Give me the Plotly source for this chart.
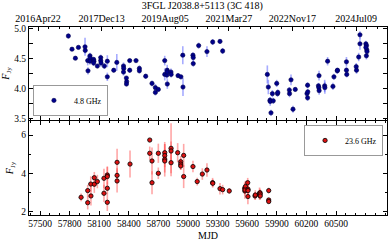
import plotly.graph_objects as go

# 4.8 GHz
mjd_48 = [57787, 57824, 57858, 57889, 57956, 57958, 57983, 57986, 58006, 58009, 58006,
          58043, 58046, 58043, 58081, 58115, 58115, 58118, 58152, 58182, 58182, 58247,
          58278, 58346, 58348, 58346, 58375, 58378, 58376, 58409, 58409, 58473, 58507,
          58507, 58571, 58635, 58669, 58669, 58699, 58764, 58764, 58786, 58790, 58789,
          58790, 58827, 58829, 58899, 58928, 58947, 58949, 59050, 59053, 59053, 59108,
          59192, 59250, 59324, 59351, 59804, 59814, 59831, 59833, 59841, 59855, 59864,
          59899, 59907, 59910, 60027, 60029, 60044, 60064, 60087, 60206, 60212, 60214,
          60212, 60322, 60326, 60329, 60328, 60385, 60387, 60415, 60469, 60479, 60513,
          60515, 60606, 60606, 60609, 60705, 60708, 60730, 60743, 60743, 60803, 60809,
          60812, 60808, 60814, 60803]
f_48 = [4.88, 4.66, 4.51, 4.69, 4.70, 4.64, 4.47, 4.30, 4.55, 4.51, 4.46,
        4.49, 4.46, 4.43, 4.38, 4.52, 4.47, 4.43, 4.38, 4.46, 4.20, 4.31,
        4.44, 4.38, 4.34, 4.28, 4.18, 4.12, 4.08, 4.47, 4.31, 4.47, 4.34,
        4.30, 4.21, 4.09, 4.02, 3.94, 3.99, 4.47, 4.24, 4.23, 4.08, 4.31,
        4.28, 4.28, 4.24, 4.22, 4.20, 4.56, 4.03, 4.56, 4.52, 4.42, 4.72,
        4.62, 4.78, 4.79, 4.63, 4.24, 4.03, 3.81, 3.79, 3.60, 3.92, 3.80,
        4.09, 3.92, 3.94, 3.98, 3.92, 4.15, 3.66, 3.99, 3.92, 4.06, 3.95,
        3.85, 4.05, 4.02, 3.97, 4.22, 4.05, 4.02, 4.46, 4.04, 4.20, 4.30,
        4.31, 4.45, 4.31, 4.24, 4.37, 4.31, 4.53, 4.90, 4.75, 4.75, 4.72,
        4.65, 4.55, 4.62, 4.69]
e_48 = [0.04, 0.03, 0.03, 0.03, 0.15, 0.05, 0.08, 0.06, 0.05, 0.04, 0.06,
        0.04, 0.03, 0.05, 0.03, 0.05, 0.04, 0.06, 0.05, 0.10, 0.07, 0.03,
        0.14, 0.06, 0.05, 0.06, 0.03, 0.04, 0.03, 0.03, 0.04, 0.03, 0.05,
        0.04, 0.04, 0.05, 0.06, 0.05, 0.04, 0.08, 0.10, 0.06, 0.08, 0.09,
        0.07, 0.06, 0.05, 0.04, 0.04, 0.15, 0.15, 0.05, 0.06, 0.05, 0.05,
        0.09, 0.05, 0.04, 0.05, 0.15, 0.12, 0.05, 0.07, 0.05, 0.06, 0.05,
        0.06, 0.05, 0.05, 0.05, 0.06, 0.09, 0.06, 0.04, 0.05, 0.05, 0.05,
        0.05, 0.05, 0.07, 0.07, 0.08, 0.10, 0.10, 0.07, 0.06, 0.05, 0.05,
        0.03, 0.08, 0.05, 0.05, 0.06, 0.06, 0.07, 0.06, 0.10, 0.05, 0.04,
        0.05, 0.06, 0.05, 0.04]

# 23.6 GHz
mjd_236 = [57916, 57983, 57983, 58014, 58016, 58050, 58050, 58081, 58148, 58148,
           58182, 58182, 58182, 58182, 58281, 58281, 58281, 58412, 58612, 58612,
           58635, 58635, 58699, 58699, 58764, 58764, 58764, 58764, 58828, 58828,
           58828, 58895, 58926, 58926, 58926, 58956, 58956, 59050, 59093, 59145,
           59192, 59249, 59251, 59324, 59351, 59418, 59574, 59576, 59582, 59578,
           59605, 59608, 59608, 59607, 59679, 59682, 59725, 59725, 59730, 59732,
           59732, 59818, 59818, 59818]
f_236 = [2.76, 3.11, 2.48, 3.45, 2.83, 3.78, 3.44, 3.58, 3.75, 2.97,
         3.92, 3.84, 3.23, 2.50, 4.58, 3.90, 3.61, 4.49, 5.74, 5.05,
         4.65, 3.52, 5.05, 4.01, 5.08, 4.93, 4.74, 4.65, 5.31, 5.17,
         4.56, 5.08, 4.61, 4.49, 4.39, 4.94, 3.84, 4.36, 3.58, 3.97,
         4.18, 3.52, 3.49, 3.21, 3.16, 3.09, 3.23, 3.09, 3.32, 3.14,
         3.52, 3.18, 3.11, 2.80, 2.83, 2.88, 2.97, 2.88, 3.00, 2.93,
         2.83, 3.11, 2.62, 2.54]
e_236 = [0.20, 0.30, 0.35, 0.40, 0.50, 0.30, 0.45, 0.35, 0.50, 0.45,
         0.45, 0.50, 0.30, 0.45, 0.70, 0.40, 0.60, 0.70, 0.10, 0.35,
         0.70, 0.60, 0.50, 0.30, 0.45, 0.60, 0.90, 0.60, 1.30, 0.50,
         0.70, 0.50, 0.30, 0.30, 0.20, 0.60, 0.60, 0.30, 0.20, 0.30,
         0.35, 0.25, 0.20, 0.30, 0.25, 0.15, 0.30, 0.40, 0.30, 0.30,
         0.25, 0.40, 0.30, 0.40, 0.20, 0.25, 0.30, 0.25, 0.20, 0.20,
         0.20, 0.15, 0.10, 0.10]

top_tick_mjd = [57500, 58100, 58700, 59300, 59900, 60500]
top_tick_text = ["2016Apr22", "2017Dec13", "2019Aug05", "2021Mar27", "2022Nov17", "2024Jul09"]
bottom_tick_mjd = [57500, 57800, 58100, 58400, 58700, 59000, 59300, 59600, 59900, 60200, 60500]

FONT = "Liberation Serif"
MJD_RANGE = [57388, 61017]
TOP_RANGE = [57415, 60792]

fig = go.Figure()
fig.add_trace(go.Scatter(
    x=mjd_48, y=f_48, mode="markers", name="4.8 GHz",
    error_y=dict(type="data", array=e_48, color="rgba(80,90,255,0.5)", thickness=1.6, width=0),
    marker=dict(color="#00008b", size=4.3, line=dict(width=0.6, color="#000050")),
    xaxis="x", yaxis="y", legend="legend"))
fig.add_trace(go.Scatter(
    x=mjd_236, y=f_236, mode="markers", name="23.6 GHz",
    error_y=dict(type="data", array=e_236, color="rgba(255,80,80,0.5)", thickness=1.6, width=0),
    marker=dict(color="#dd1111", size=4.3, line=dict(width=0.8, color="black")),
    xaxis="x2", yaxis="y2", legend="legend2"))
# carrier for the date axis on top
fig.add_trace(go.Scatter(x=top_tick_mjd, y=[None] * len(top_tick_mjd), mode="markers",
                         showlegend=False, hoverinfo="skip", xaxis="x3", yaxis="y"))

base = dict(showline=True, linecolor="black", linewidth=1, ticks="inside", ticklen=4,
            tickcolor="black", showgrid=False, zeroline=False,
            tickfont=dict(family=FONT, size=9.5, color="black"))
minor_x = dict(dtick=100, tick0=57500, ticks="inside", ticklen=2, tickcolor="black")

fig.update_layout(
    width=389, height=243,
    margin=dict(l=29, r=2, t=27, b=28),
    paper_bgcolor="white", plot_bgcolor="white",
    font=dict(family=FONT, size=10, color="black"),
    title=dict(text="3FGL J2038.8+5113 (3C 418)", x=0.52, xanchor="center", y=0.992, yanchor="top",
               font=dict(family=FONT, size=10, color="black")),
    showlegend=True,
    xaxis=dict(domain=[0, 1], range=MJD_RANGE, anchor="y", side="bottom", mirror=True,
               tickvals=bottom_tick_mjd, showticklabels=False, minor=minor_x, **base),
    xaxis3=dict(range=TOP_RANGE, overlaying="x", anchor="y", side="top",
                tickvals=top_tick_mjd, ticktext=top_tick_text,
                minor=dict(dtick=100, tick0=57500, ticks="inside", ticklen=2, tickcolor="black"),
                **{**base, "tickfont": dict(family=FONT, size=10, color="black")}),
    yaxis=dict(domain=[0.505, 1], range=[3.48, 5.03], tickvals=[3.5, 4.0, 4.5, 5.0],
               ticktext=["3.5", "4.0", "4.5", "5.0"], mirror="allticks",
               minor=dict(dtick=0.25, tick0=3.5, ticks="inside", ticklen=2, tickcolor="black"),
               title=dict(text="<i>F</i><sub>Jy</sub>", standoff=5, font=dict(family=FONT, size=10)),
               anchor="x", **base),
    xaxis2=dict(domain=[0, 1], range=MJD_RANGE, anchor="y2", side="bottom", mirror="allticks",
                tickvals=bottom_tick_mjd, tickformat="d", minor=minor_x, **base),
    yaxis2=dict(domain=[0, 0.5], range=[1.84, 6.73], tickvals=[2, 4, 6], mirror="allticks",
                minor=dict(dtick=1, tick0=2, ticks="inside", ticklen=2, tickcolor="black"),
                title=dict(text="<i>F</i><sub>Jy</sub>", standoff=5, font=dict(family=FONT, size=10)),
                anchor="x2", **base),
    legend=dict(x=0.011, y=0.527, xanchor="left", yanchor="bottom",
                bgcolor="white", bordercolor="#999999", borderwidth=1,
                font=dict(family=FONT, size=8), itemwidth=30, indentation=0),
    legend2=dict(x=0.989, y=0.479, xanchor="right", yanchor="top",
                 bgcolor="white", bordercolor="#999999", borderwidth=1,
                 font=dict(family=FONT, size=8), itemwidth=30, indentation=0),
    annotations=[dict(text="MJD", xref="paper", yref="paper", x=0.5, y=-0.108,
                      xanchor="center", yanchor="middle", showarrow=False,
                      font=dict(family=FONT, size=10, color="black"))],
)

fig.write_html("out.html", config={"displayModeBar": False, "staticPlot": True},
               post_script="document.body.style.margin='0px';document.body.style.padding='0px';"
                           "document.documentElement.style.overflow='hidden';")
